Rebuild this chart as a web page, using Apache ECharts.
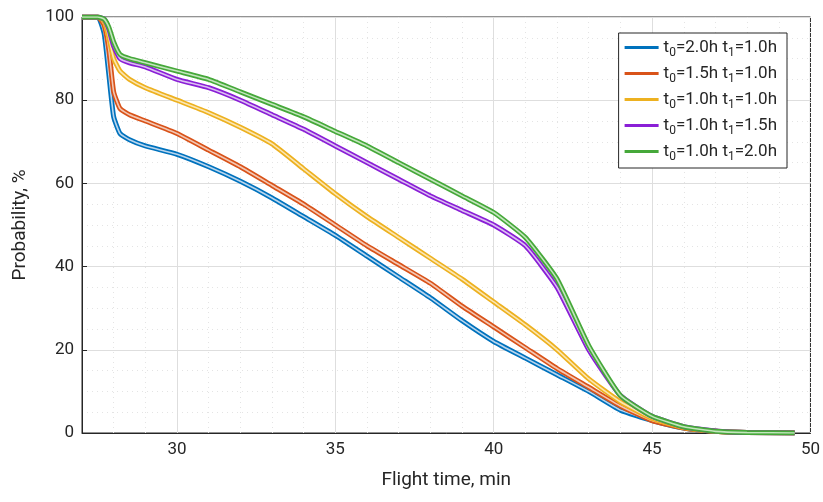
<!DOCTYPE html><html><head><meta charset="utf-8"><script src="https://cdn.jsdelivr.net/npm/echarts@6/dist/echarts.min.js"></script></head><body style="margin:0"><div id="c" style="width:823px;height:502px"></div><script>
const xs=[27,27.5,27.7,27.85,28.0,28.2,28.5,29,30,31,32,33,34,35,36,37,38,39,40,41,42,43,44,45,46,47,48,49.5];
const blue  =[100,100,96,86,76,72,70.5,69,67,64,60.5,56.5,52,47.5,42.5,37.5,32.5,27,22,18,14,10,5.5,3,1.2,0.4,0.1,0];
const orange=[100,100,98,92,82,78,76.5,75,72,68,64,59.5,55,50,45,40.5,36,30.5,25.5,20.5,15.5,11,6.5,3,1.2,0.4,0.1,0];
const yellow=[100,100,99,95,90,87,85,83,80,77,73.5,69.5,63.5,57.5,52,47,42,37,31.5,26,20,13,7.5,3.5,1.3,0.4,0.1,0];
const purple=[100,100,99.5,97,93,90,89,88,85,83,80,76.5,73,69,65,61,57,53.5,50,45,35,20,9,4,1.5,0.5,0.1,0];
const green =[100,100,99.5,97.5,94,91,90,89,87,85,82,79,76,72.5,69,65,61,57,53,47,37,21,9,4,1.5,0.4,0.1,0];
const majorX=[30,35,40,45];
const names=['2.0h|1.0h','1.5h|1.0h','1.0h|1.0h','1.0h|1.5h','1.0h|2.0h'];
const cols=['#0072BD','#D95319','#EDB120','#8A1FD6','#46A83A'];
const lights=['#b9d6ee','#f3c7b4','#fbe6b3','#dcbff3','#c3e6bd'];
const data=[blue,orange,yellow,purple,green];
const series=[];
data.forEach((d,i)=>{const pts=xs.map((x,j)=>[x,d[j]]);
 series.push({name:names[i],type:'line',data:pts,showSymbol:false,smooth:0.15,color:cols[i],lineStyle:{width:5,color:cols[i]},z:2+i*2});
 series.push({name:'_'+i,type:'line',data:pts,showSymbol:false,smooth:0.15,lineStyle:{width:1.6,color:lights[i]},z:3+i*2,silent:true});});
series[0].markLine={silent:true,symbol:'none',label:{show:false},lineStyle:{color:'#dedede',type:'solid',width:1},z:1,data:majorX.map(v=>({xAxis:v}))};
const ch=echarts.init(document.getElementById('c'));
const ax={fontFamily:'Roboto',fontSize:17,color:'#262626'};
ch.setOption({animation:false,
grid:{left:82,right:11,top:17,bottom:69,show:true,borderColor:'#262626',borderWidth:1},
xAxis:{type:'value',min:27,max:50,interval:1,name:'Flight time, min',nameLocation:'middle',nameGap:38,nameTextStyle:{fontFamily:'Roboto',fontSize:19,color:'#262626'},
 axisLabel:Object.assign({formatter:v=>v%5===0?String(v):''},ax),axisTick:{show:false},axisLine:{lineStyle:{color:'#262626'}},
 splitLine:{show:true,lineStyle:{color:'#e4e4e4',type:[1,4]}}},
yAxis:{type:'value',min:0,max:100,interval:20,name:'Probability, %',nameLocation:'middle',nameGap:52,nameTextStyle:{fontFamily:'Roboto',fontSize:19,color:'#262626'},
 axisLabel:ax,axisTick:{show:true,inside:true,length:5,lineStyle:{color:'#262626'}},axisLine:{show:true,lineStyle:{color:'#262626'}},
 splitLine:{lineStyle:{color:'#dedede'}},minorTick:{show:false,splitNumber:4},minorSplitLine:{show:true,lineStyle:{color:'#e4e4e4',type:[1,4]}}},
legend:{data:names,orient:'vertical',right:36,top:33,padding:[3,10,5,6],itemGap:3,itemWidth:34,itemHeight:3,backgroundColor:'#fff',borderColor:'#262626',borderWidth:1,
 icon:'rect',
 formatter:n=>{const p=n.split('|');return '{a|t}{s|0}{a|='+p[0]+' t}{s|1}{a|='+p[1]+'}';},
 textStyle:{rich:{a:{fontFamily:'Roboto',fontSize:17,color:'#262626',lineHeight:22},s:{fontFamily:'Roboto',fontSize:12,color:'#262626',padding:[11,0,0,0],lineHeight:22}}}},
series});
</script></body></html>
